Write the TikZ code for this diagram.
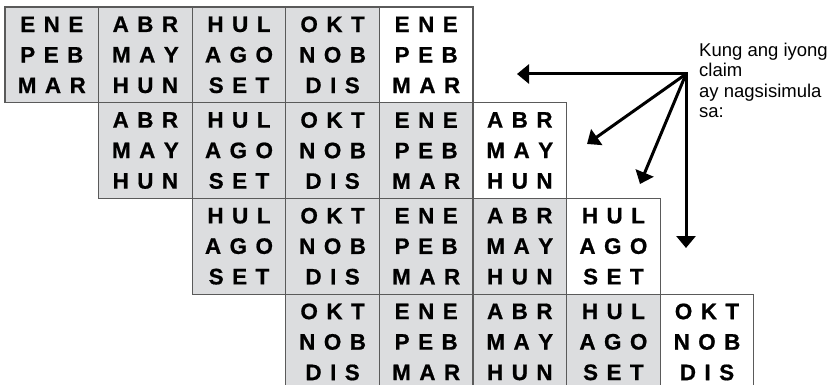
\documentclass[tikz,border=0pt]{standalone}
\usepackage{fontspec}
\setmainfont{Liberation Sans}
\newfontfamily\monthfont[BoldFeatures={FakeBold=0.8}]{Liberation Sans}
\usetikzlibrary{positioning, arrows.meta}
\definecolor{cellgray}{HTML}{DCDDDF}
\definecolor{gridgray}{HTML}{5A5A5A}
\newlength{\lsp}\setlength{\lsp}{8.5pt}
\newcommand{\mon}[3]{#1\kern\lsp#2\kern\lsp#3}
\newcommand{\qone}{\mon ENE\\\mon PEB\\\mon MAR}
\newcommand{\qtwo}{\mon ABR\\\mon MAY\\\mon HUN}
\newcommand{\qthree}{\mon HUL\\\mon AGO\\\mon SET}
\newcommand{\qfour}{\mon OKT\\\mon NOB\\\mon DIS}
\begin{document}
\begin{tikzpicture}[x=1pt, y=-1pt,
	cell/.style={draw=gridgray, line width=1.2pt, fill=cellgray, minimum width=93.6pt, minimum height=95.7pt, inner sep=0pt, outer sep=0pt, align=center, font=\monthfont\fontsize{22.4}{30.5}\selectfont\bfseries},
	lastcell/.style={cell, fill=white},
	pointer/.style={line width=3pt, -{Triangle[length=12pt,width=19pt]}}]
		\useasboundingbox (0,0) rectangle (833,385);
		
		%hanay 1
		\node[cell] (a1) at (51.8,54.85) {\qone};
		\node[cell, right = 0pt of a1] (a2) {\qtwo};
		\node[cell, right = 0pt of a2] (a3) {\qthree};
		\node[cell, right = 0pt of a3] (a4) {\qfour};
		\node[lastcell, right = 0pt of a4] (a5) {\qone};
		
		%hanay 2
		\node[cell, below = 0pt of a2] (b1) {\qtwo};
		\node[cell, right = 0pt of b1] (b2) {\qthree};
		\node[cell, right = 0pt of b2] (b3) {\qfour};
		\node[cell, right = 0pt of b3] (b4) {\qone};
		\node[lastcell, right = 0pt of b4] (b5) {\qtwo};
		
		%hanay 3
		\node[cell, below = 0pt of b2] (c1) {\qthree};
		\node[cell, right = 0pt of c1] (c2) {\qfour};
		\node[cell, right = 0pt of c2] (c3) {\qone};
		\node[cell, right = 0pt of c3] (c4) {\qtwo};
		\node[lastcell, right = 0pt of c4] (c5) {\qthree};
		
		%hanay 4
		\node[cell, below = 0pt of c2] (d1) {\qfour};
		\node[cell, right = 0pt of d1] (d2) {\qone};
		\node[cell, right = 0pt of d2] (d3) {\qtwo};
		\node[cell, right = 0pt of d3] (d4) {\qthree};
		\node[lastcell, right = 0pt of d4] (d5) {\qfour};
		
		%paliwanag
		\node[anchor=base west, align=left, inner sep=0pt, font=\fontsize{18.5}{20.5}\selectfont] (claim) at (699,118) {Kung ang iyong\\claim\\ay nagsisimula\\sa:};
		
		%mga palaso
		\coordinate (src) at (686,74);
		\coordinate (t1) at (517,74);
		\coordinate (t2) at (587,144);
		\coordinate (t3) at (640,184);
		\coordinate (t4) at (686,248);
		
		\draw[pointer, {Triangle[length=12pt,width=19pt]}-{Triangle[length=12pt,width=19pt]}] (t1) -- (src) -- (t4);
		\draw[pointer] (src) -- (t2);
		\draw[pointer] (src) -- (t3);
		
	\end{tikzpicture}
\end{document}
